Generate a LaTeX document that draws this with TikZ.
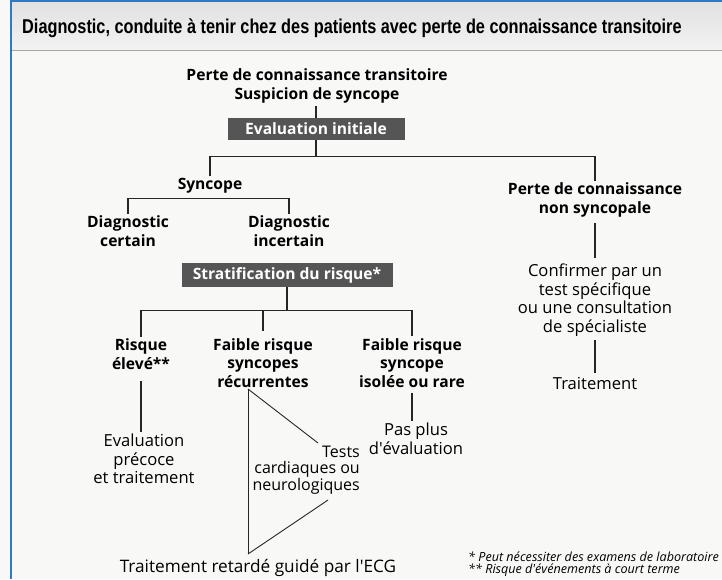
\documentclass[tikz,border=0pt]{standalone}
\usepackage{fontspec}
\setmainfont{Open Sans}
\newfontfamily\titlefont[FakeStretch=0.815]{Liberation Sans}
\usetikzlibrary{calc}

\definecolor{framblue}{RGB}{46,123,196}
\definecolor{boxgray}{RGB}{85,85,85}
\definecolor{paper}{RGB}{248,248,247}

\begin{document}
\begin{tikzpicture}[x=1pt,y=-1pt,
        txt/.style={align=center, inner sep=2pt, font=\fontsize{16.6}{18.6}\selectfont},
        btxt/.style={txt, font=\bfseries\fontsize{15.6}{18.6}\selectfont},
        darkbox/.style={fill=boxgray, text=white, inner sep=0pt, font=\bfseries\fontsize{15.6}{17}\selectfont},
        link/.style={line width=1.1pt, draw=black!85}]
        \useasboundingbox (0,0) rectangle (722,579);

        % page and header
        \fill[paper] (0,0) rectangle (722,579);
        \shade[top color=black!12, bottom color=black!5] (11,0) rectangle (722,50);
        \draw[black!35, line width=0.8pt] (12,50) -- (722,50);
        \draw[framblue, line width=2pt] (11,0) -- (11,579);
        \draw[framblue, line width=2pt] (11,1) -- (722,1);
        \node[anchor=west, inner sep=0pt, font=\titlefont\bfseries\fontsize{20}{22}\selectfont] (title) at (22,28)
            {Diagnostic, conduite à tenir chez des patients avec perte de connaissance transitoire};

        % top of the tree
        \node[btxt] (plc) at (317,86) {Perte de connaissance transitoire\\Suspicion de syncope};
        \node[darkbox, minimum width=177pt, minimum height=22pt] (evalinit) at (316,129) {Evaluation initiale};
        \node[btxt] (syncope) at (210,186) {Syncope};
        \node[btxt] (certain) at (128,231) {Diagnostic\\certain};
        \node[btxt] (incertain) at (289,231) {Diagnostic\\incertain};
        \node[btxt] (nonsync) at (595,200) {Perte de connaissance\\non syncopale};
        \node[txt] (confirm) at (595,300) {Confirmer par un\\test spécifique\\ou une consultation\\de spécialiste};
        \node[txt] (traitement) at (595,383) {Traitement};

        \draw[link] (evalinit.north) -- ++(0,-12);
        \draw[link] (evalinit.south) -- ++(0,16) coordinate (split1);
        \draw[link] (syncope.north) |- (split1) -| (nonsync.north);
        \coordinate (split2) at ($(syncope.south)+(0,3)$);
        \draw[link] (certain.north) |- (split2) -| (incertain.north);
        \draw[link, shorten <=4pt, shorten >=4pt] (nonsync.south) -- (confirm.north);
        \draw[link, shorten <=2pt, shorten >=2pt] (confirm.south) -- (traitement.north);

        % risk branch
        \node[darkbox, minimum width=211pt, minimum height=24pt] (strat) at (287,275) {Stratification du risque*};
        \node[btxt] (eleve) at (141,354) {Risque\\élevé**};
        \node[btxt] (recur) at (263,363) {Faible risque\\syncopes\\récurrentes};
        \node[btxt] (rare) at (412,363) {Faible risque\\syncope\\isolée ou rare};
        \node[txt] (precoce) at (144,459) {Evaluation\\précoce\\et traitement};
        \node[txt] (pasplus) at (416,439) {Pas plus\\d\textquotesingle évaluation};
        \node[txt, align=right, anchor=east, font=\fontsize{16}{15.6}\selectfont] (tests) at (362,470) {Tests\\cardiaques ou\\neurologiques};
        \node[txt, font=\fontsize{17.2}{18}\selectfont] (ecg) at (258,568) {Traitement retardé guidé par l\textquotesingle ECG};

        \draw[link] (strat.south) -- ++(0,23) coordinate (split3);
        \draw[link] (eleve.north) |- (split3) -| (rare.north);
        \draw[link] (recur.north |- split3) -- ([yshift=5pt]recur.north);
        \draw[link, shorten <=9pt] (eleve.south) -- (eleve.south |- precoce.north);
        \draw[link, shorten <=3pt] (rare.south) -- (rare.south |- pasplus.north);

        % triangle round the tests
        \coordinate (ttop) at (248,389);
        \coordinate (tbot) at (248,554);
        \draw[line width=0.9pt, draw=black!85] (ttop) -- (tbot);
        \draw[line width=0.9pt, draw=black!85] (ttop) -- (318,443);
        \draw[line width=0.9pt, draw=black!85] (tbot) -- (328,500);

        % notes
        \node[anchor=west, align=left, inner sep=0pt, font=\itshape\fontsize{12.6}{12.4}\selectfont] (notes) at (468,564)
            {* Peut nécessiter des examens de laboratoire\\** Risque d\textquotesingle événements à court terme};
\end{tikzpicture}
\end{document}
